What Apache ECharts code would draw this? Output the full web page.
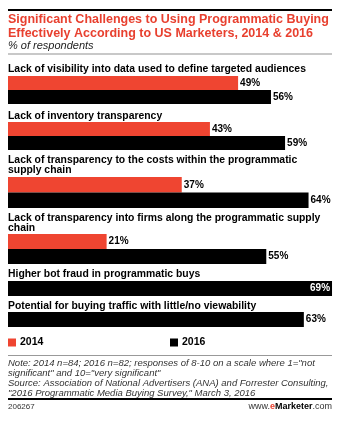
<!DOCTYPE html>
<html>
<head>
<meta charset="utf-8">
<script src="https://cdn.jsdelivr.net/npm/echarts@6/dist/echarts.min.js"></script>
<style>
  html, body { margin: 0; padding: 0; background: #fff; }
  #chart { width: 345px; height: 425px; }
</style>
</head>
<body>
<div id="chart"></div>
<script>
// ---- data ----
const titleLines = [
  'Significant Challenges to Using Programmatic Buying',
  'Effectively According to US Marketers, 2014 & 2016'
];
const subtitle = '% of respondents';
const categories = [
  'Lack of visibility into data used to define targeted audiences',
  'Lack of inventory transparency',
  'Lack of transparency to the costs within the programmatic\nsupply chain',
  'Lack of transparency into firms along the programmatic supply\nchain',
  'Higher bot fraud in programmatic buys',
  'Potential for buying traffic with little/no viewability'
];
const years = ['2014', '2016'];
const values2014 = [49, 43, 37, 21, null, null];
const values2016 = [56, 59, 64, 55, 69, 63];
const noteLines = [
  'Note: 2014 n=84; 2016 n=82; responses of 8-10 on a scale where 1="not',
  'significant" and 10="very significant"',
  'Source: Association of National Advertisers (ANA) and Forrester Consulting,',
  '"2016 Programmatic Media Buying Survey," March 3, 2016'
];
const chartId = '206267';

// ---- layout / style ----
const FONT = '"Liberation Sans", Arial, sans-serif';
const RED = '#ef4531';
const BLACK = '#000000';
const colors = { '2014': RED, '2016': BLACK };
const groupTop = [76, 122, 177, 234, 281, 312];
const groupHeight = [28, 28, 31, 30, 15, 15];
const labelTop = [63.5, 110.5, 154.5, 212.5, 268.5, 300.5];
const X_MAX = 70;
const PX_PER_UNIT = 4.696;

const grids = [], xAxes = [], yAxes = [], series = [], graphics = [];
const valuesByYear = { '2014': values2014, '2016': values2016 };

categories.forEach((cat, i) => {
  const yrs = years.filter(y => valuesByYear[y][i] != null);
  grids.push({ left: 8, top: groupTop[i], width: X_MAX * PX_PER_UNIT, height: groupHeight[i], containLabel: false });
  xAxes.push({ type: 'value', gridIndex: i, min: 0, max: X_MAX, show: false });
  yAxes.push({ type: 'category', gridIndex: i, data: yrs, inverse: true, show: false });
  yrs.forEach(y => {
    series.push({
      type: 'bar',
      name: y,
      xAxisIndex: i,
      yAxisIndex: i,
      barGap: '-100%',
      barCategoryGap: '0%',
      itemStyle: { color: colors[y] },
      label: {
        show: true, position: 'right', distance: 2,
        formatter: '{c}%', fontFamily: FONT, fontWeight: 'bold', fontSize: 10, color: '#000'
      },
      data: yrs.map(yy => {
        if (yy !== y) return null;
        const v = valuesByYear[y][i];
        if (v >= 66) {
          return { value: v, label: { position: 'insideRight', color: '#fff', distance: 2 } };
        }
        return v;
      })
    });
  });
  graphics.push({
    type: 'text', left: 8, top: labelTop[i],
    style: { text: cat, fontFamily: FONT, fontWeight: 'bold', fontSize: 10.4, lineHeight: 10.5, fill: '#000' }
  });
});

// decorations
graphics.push(
  { type: 'rect', shape: { x: 8, y: 9, width: 324, height: 2 }, style: { fill: '#000' } },
  { type: 'text', left: 8, top: 12.8,
    style: { text: titleLines.join('\n'), fontFamily: FONT, fontWeight: 'bold', fontSize: 12.5, lineHeight: 13.5, fill: '#e8402f' } },
  { type: 'text', left: 8, top: 40.3,
    style: { text: subtitle, fontFamily: FONT, fontStyle: 'italic', fontSize: 11, lineHeight: 11, fill: '#222' } },
  { type: 'rect', shape: { x: 8, y: 53, width: 324, height: 2 }, style: { fill: '#c8c8c8' } },
  { type: 'rect', shape: { x: 8, y: 355, width: 324, height: 1 }, style: { fill: '#999' } },
  { type: 'text', left: 8, top: 358.5,
    style: { text: noteLines.join('\n'), fontFamily: FONT, fontStyle: 'italic', fontSize: 9.5, lineHeight: 9.8, fill: '#333' } },
  { type: 'rect', shape: { x: 8, y: 398, width: 324, height: 2 }, style: { fill: '#000' } },
  { type: 'text', x: 8, y: 407,
    style: { text: chartId, fontFamily: FONT, fontSize: 8, fill: '#333', verticalAlign: 'middle' } },
  { type: 'text', x: 332, y: 407,
    style: {
      text: '{a|www.}{b|e}{c|Marketer}{a|.com}',
      align: 'right', verticalAlign: 'middle',
      rich: {
        a: { fontFamily: FONT, fontSize: 9, fill: '#333' },
        b: { fontFamily: FONT, fontSize: 9, fontWeight: 'bold', fill: '#e8402f' },
        c: { fontFamily: FONT, fontSize: 9, fontWeight: 'bold', fill: '#000' }
      }
    } }
);

const legendCommon = {
  top: 337, icon: 'rect', itemWidth: 8, itemHeight: 8, itemGap: 10, padding: 0,
  textStyle: { fontFamily: FONT, fontWeight: 'bold', fontSize: 10.5, color: '#000', padding: [0, 0, 0, -1] },
  selectedMode: false
};

const chart = echarts.init(document.getElementById('chart'), null, { renderer: 'canvas' });
chart.setOption({
  animation: false,
  backgroundColor: '#fff',
  grid: grids,
  xAxis: xAxes,
  yAxis: yAxes,
  series: series,
  legend: [
    Object.assign({}, legendCommon, { left: 8, data: ['2014'] }),
    Object.assign({}, legendCommon, { left: 170, data: ['2016'] })
  ],
  graphic: graphics
});
</script>
</body>
</html>
